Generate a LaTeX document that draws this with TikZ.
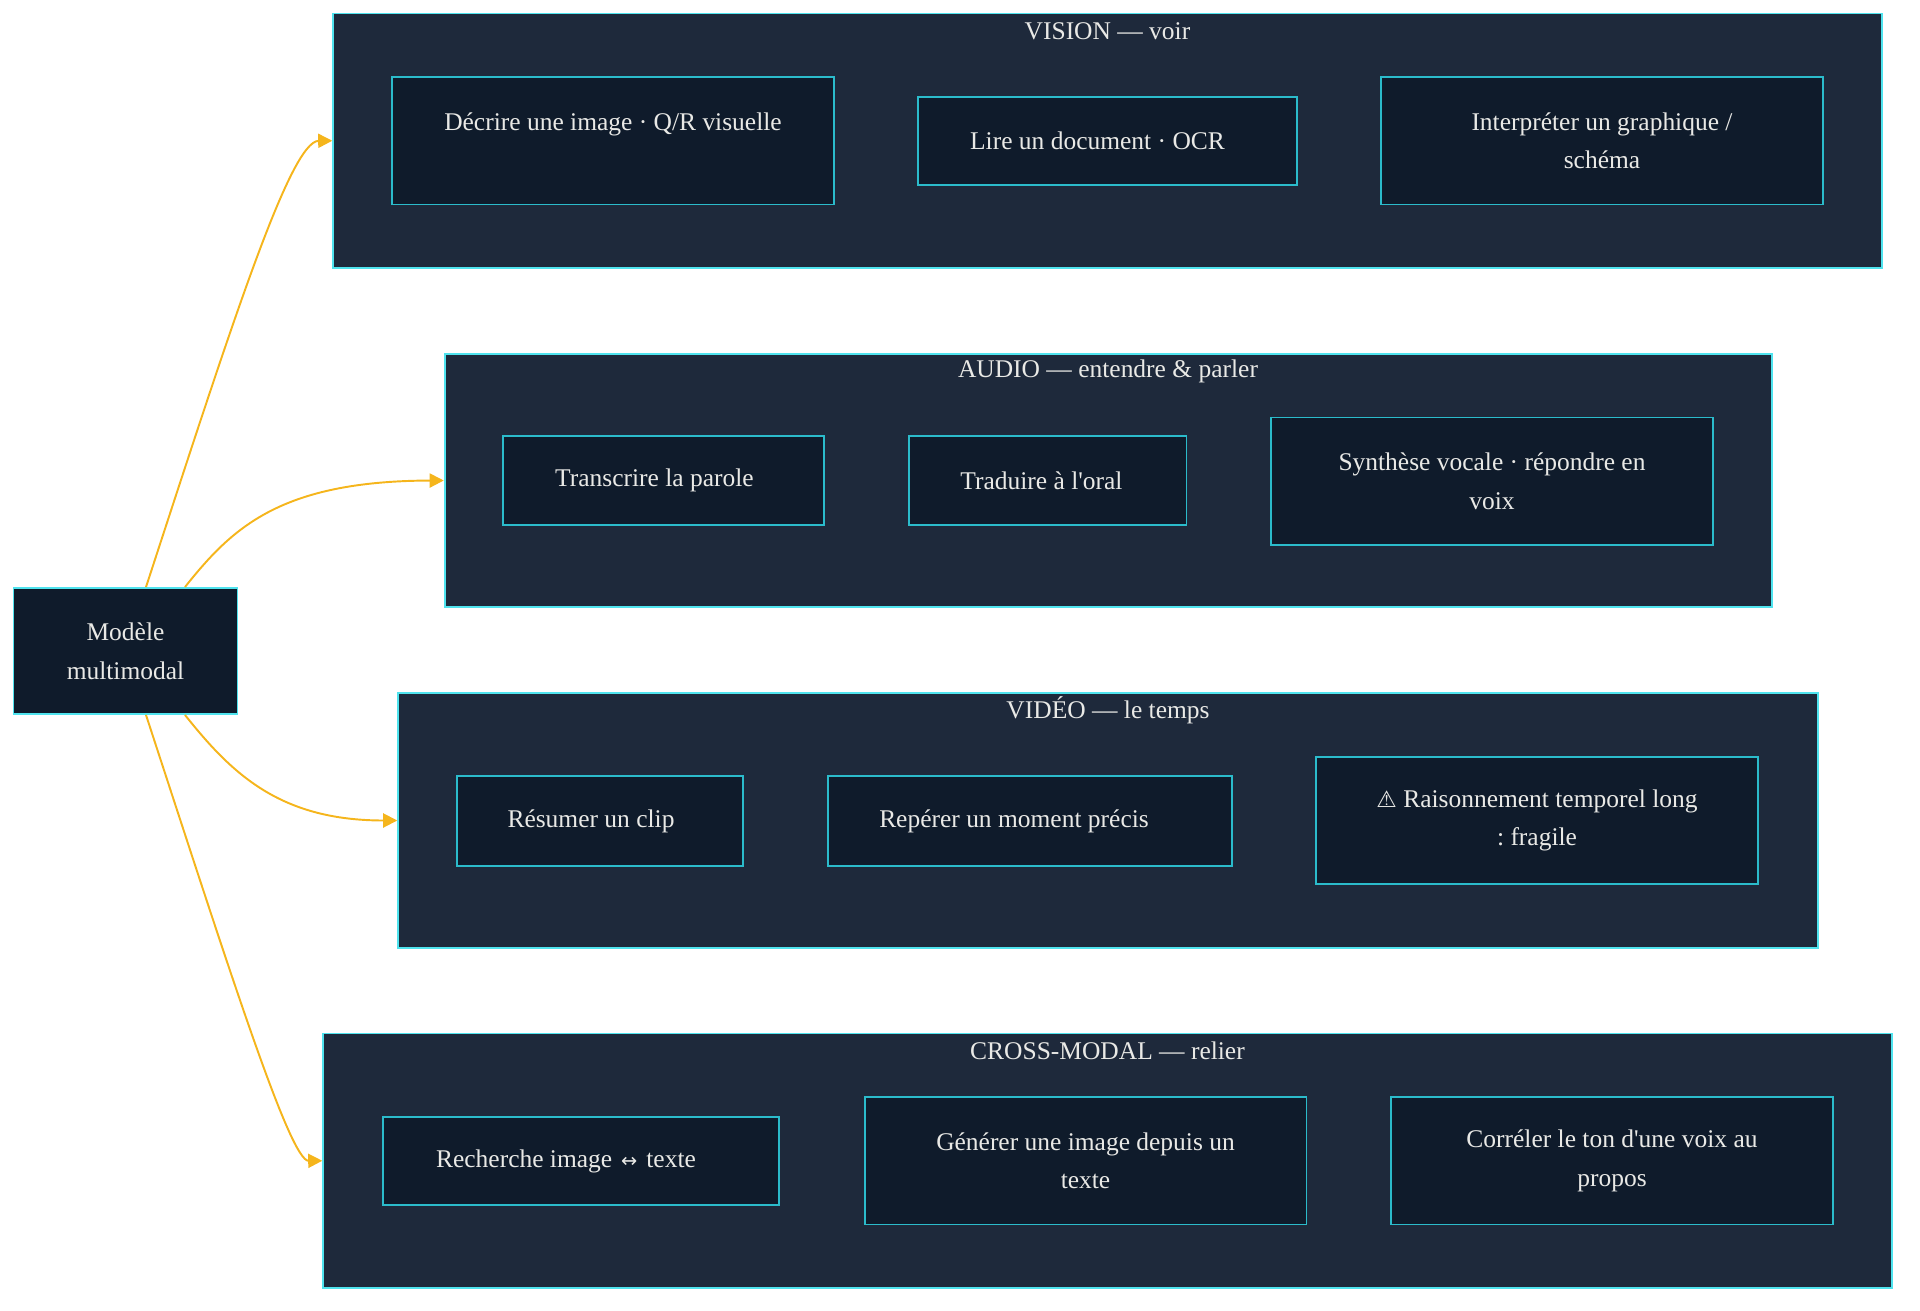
\documentclass[tikz,border=0pt]{standalone}
\usepackage{fontspec}
\setmainfont{Liberation Serif}
\newfontfamily\symfont{DejaVu Sans}
\usetikzlibrary{arrows.meta,calc}
\definecolor{panelbg}{HTML}{1E293B}
\definecolor{boxbg}{HTML}{0F1B2B}
\definecolor{rim}{HTML}{2BBBCB}
\definecolor{rimlight}{HTML}{4FE3EE}
\definecolor{linkcol}{HTML}{F5B51C}
\definecolor{txt}{HTML}{E9E9E6}
\newcommand{\trail}[1]{\hspace*{#1}}
\frenchspacing
\begin{document}
\begin{tikzpicture}[x=0.02cm,y=-0.02cm,
    every node/.style={text=txt,font=\fontsize{14.5}{22}\selectfont,align=center},
    group/.style={draw=rimlight,fill=panelbg,line width=1pt,inner sep=0pt,minimum height=5.09cm},
    task/.style={draw=rim,fill=boxbg,line width=1.1pt,inner sep=0pt,minimum height=1.78cm},
    widetask/.style={task,minimum width=8.84cm,minimum height=2.55cm},
    link/.style={draw=linkcol,line width=1.1pt,-{Triangle[length=8pt,width=8pt]}}]
      \useasboundingbox (0,0) rectangle (1920,1311);
      % source
      \node[task,draw=rimlight,minimum width=4.48cm,minimum height=2.52cm] (model) at (125.5,651) {Modèle\\multimodal};
      % VISION
      \node[group,minimum width=30.98cm] (vision) at (1107.5,140.75) {};
      \node (visiontitle) at (1107.5,31) {VISION — voir};
      \node[widetask] (describe) at (613,140.75) {Décrire une image · Q/R visuelle\\\mbox{}};
      \node[task,minimum width=7.58cm,minimum height=1.76cm] (ocr) at (1107.5,141) {Lire un document · OCR\trail{0.4cm}};
      \node[widetask] (chart) at (1602,140.75) {Interpréter un graphique /\\schéma};
      % AUDIO
      \node[group,minimum width=26.55cm,minimum height=5.06cm] (audio) at (1108.25,480.5) {};
      \node (audiotitle) at (1108,371) {AUDIO — entendre \& parler};
      \node[task,minimum width=6.42cm] (transcribe) at (663.5,480.5) {Transcrire la parole\trail{0.36cm}};
      \node[task,minimum width=5.56cm] (translate) at (1047.5,480.5) {Traduire à l\textquotesingle oral\trail{0.24cm}};
      \node[widetask] (speech) at (1492,481.25) {Synthèse vocale · répondre en\\voix};
      % VIDEO
      \node[group,minimum width=28.4cm,minimum height=5.1cm] (video) at (1108,820.5) {};
      \node (videotitle) at (1108,710) {VIDÉO — le temps};
      \node[task,minimum width=5.72cm,minimum height=1.8cm] (summary) at (600,821) {Résumer un clip\trail{0.36cm}};
      \node[task,minimum width=8.08cm,minimum height=1.8cm] (moment) at (1030,821) {Repérer un moment précis\trail{0.64cm}};
      \node[widetask] (temporal) at (1537,820.5) {{\symfont\fontsize{13}{22}\selectfont ⚠} Raisonnement temporel long\\: fragile};
      % CROSS-MODAL
      \node[group,minimum width=31.38cm] (cross) at (1107.5,1160.75) {};
      \node (crosstitle) at (1107.5,1051) {CROSS-MODAL — relier};
      \node[task,minimum width=7.92cm,minimum height=1.76cm] (search) at (581,1161) {Recherche image\hspace{0.18cm}{\symfont\fontsize{11}{22}\selectfont ↔}\hspace{0.18cm}texte\trail{0.6cm}};
      \node[widetask] (generate) at (1085.5,1160.75) {Générer une image depuis un\\texte};
      \node[widetask] (tone) at (1612,1160.75) {Corréler le ton d\textquotesingle une voix au\\propos};
      % links
      \draw[link] ($(model.north)+(20.5,0)$) .. controls (230,330) and (290,141) .. (vision.west);
      \draw[link] ($(model.north)+(59.5,0)$) .. controls (232,528) and (280,481) .. (audio.west);
      \draw[link] ($(model.south)+(59.5,0)$) .. controls (232,774) and (280,820.5) .. (video.west);
      \draw[link] ($(model.south)+(20.5,0)$) .. controls (230,972) and (290,1161) .. (cross.west);
\end{tikzpicture}
\end{document}
